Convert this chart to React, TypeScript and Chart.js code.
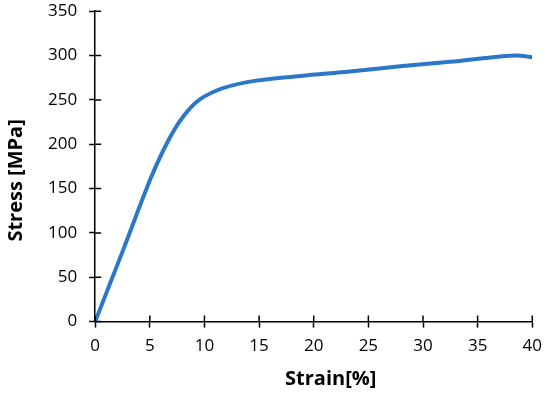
import React, { useEffect, useRef } from "react";
import { Chart, registerables } from "chart.js";

Chart.register(...registerables);

const strain = [0, 2.6, 5.2, 6.6, 7.8, 9.3, 11.2, 13.9, 18.8, 23.3, 27.9, 32.5, 37.1, 38.5, 40];
const stress = [0, 82, 165, 202, 227, 248, 261, 270, 277, 282, 288, 293, 299, 300, 298];
const xTitle = "Strain[%]";
const yTitle = "Stress [MPa]";

const crossTicks = {
  id: "crossTicks",
  afterDraw(chart: any) {
    const ctx = chart.ctx;
    const x = chart.scales.x;
    const y = chart.scales.y;
    ctx.save();
    ctx.strokeStyle = "#000";
    ctx.lineWidth = 1.5;
    ctx.beginPath();
    x.ticks.forEach((t: any) => {
      const px = x.getPixelForValue(t.value);
      ctx.moveTo(px, y.bottom);
      ctx.lineTo(px, y.bottom - 6);
    });
    y.ticks.forEach((t: any) => {
      const py = y.getPixelForValue(t.value);
      ctx.moveTo(x.left, py);
      ctx.lineTo(x.left + 6, py);
    });
    ctx.stroke();
    // axis titles
    ctx.fillStyle = "#000";
    ctx.font = "bold 20px 'Open Sans'";
    ctx.textAlign = "center";
    ctx.textBaseline = "middle";
    ctx.fillText(xTitle, (x.left + x.right) / 2 + 17, chart.height - 4 - 14);
    ctx.translate(16, (y.top + y.bottom) / 2 + 14);
    ctx.rotate(-Math.PI / 2);
    ctx.fillText(yTitle, 0, 0);
    ctx.restore();
  },
};

export default function App() {
  const ref = useRef<HTMLCanvasElement>(null);
  useEffect(() => {
    const chart = new Chart(ref.current!, {
      type: "line",
      data: {
        datasets: [
          {
            data: strain.map((s, i) => ({ x: s, y: stress[i] })),
            borderColor: "#2c77c8",
            borderWidth: 4,
            pointRadius: 0,
            cubicInterpolationMode: "monotone",
            fill: false,
          },
        ],
      },
      options: {
        animation: false,
        responsive: true,
        maintainAspectRatio: false,
        layout: { padding: { top: 0, right: 11, bottom: 33, left: 36 } },
        plugins: { legend: { display: false }, tooltip: { enabled: false } },
        scales: {
          x: {
            type: "linear",
            min: 0,
            max: 40,
            ticks: { stepSize: 5, color: "#000", font: { family: "Open Sans", size: 17 }, padding: 8 },
            grid: { drawOnChartArea: false, tickLength: 6, tickColor: "#000", tickWidth: 1.5 },
            border: { color: "#000", width: 1.5 },
          },
          y: {
            min: 0,
            max: 350,
            ticks: { stepSize: 50, color: "#000", font: { family: "Open Sans", size: 17 }, padding: 12 },
            grid: { drawOnChartArea: false, tickLength: 6, tickColor: "#000", tickWidth: 1.5 },
            border: { color: "#000", width: 1.5 },
          },
        },
      },
      plugins: [crossTicks],
    });
    return () => chart.destroy();
  }, []);
  return (
    <div style={{ position: "fixed", left: 0, top: -11, width: 550, height: 408, background: "#fff" }}>
      <canvas ref={ref} />
    </div>
  );
}
